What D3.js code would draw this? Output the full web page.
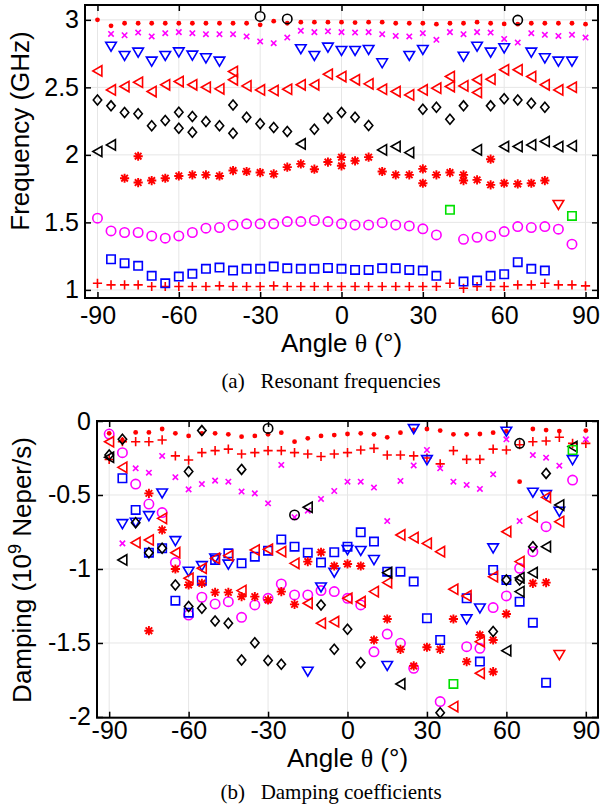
<!DOCTYPE html>
<html>
<head>
<meta charset="utf-8">
<script src="https://cdn.jsdelivr.net/npm/d3@7"></script>
<style>
  body { margin: 0; background: #fff; }
  svg { display: block; }
</style>
</head>
<body>
<div id="chart"></div>
<script>
// ticks
const xTicks = [-90, -60, -30, 0, 30, 60, 90]
const freqTicks = [1, 1.5, 2, 2.5, 3]
const dampTicks = [-2, -1.5, -1, -0.5, 0]

// (a) resonant frequencies, [angle, GHz]
const fPlus = [[-90,1.049],[-85,1.037],[-80,1.037],[-75,1.037],[-70,1.025],[-65,1.025],[-60,1.025],[-55,1.025],[-50,1.025],[-45,1.03],[-40,1.025],[-35,1.025],[-30,1.025],[-25,1.03],[-20,1.025],[-15,1.025],[-10,1.025],[-5,1.025],[0,1.025],[5,1.025],[10,1.025],[15,1.025],[20,1.025],[25,1.025],[30,1.025],[35,1.025],[40,1.049],[45,1.012],[50,1.025],[55,1.025],[60,1.025],[65,1.037],[70,1.037],[75,1.049],[80,1.037],[85,1.037],[90,1.03]]
const fSquare = [[-85,1.227],[-80,1.198],[-75,1.178],[-70,1.104],[-65,1.049],[-60,1.099],[-55,1.119],[-50,1.156],[-45,1.165],[-40,1.143],[-35,1.156],[-30,1.156],[-25,1.173],[-20,1.16],[-15,1.156],[-10,1.156],[-5,1.163],[0,1.156],[5,1.148],[10,1.148],[15,1.16],[20,1.16],[25,1.148],[30,1.143],[35,1.104],[45,1.062],[50,1.069],[55,1.104],[60,1.116],[65,1.205],[70,1.156],[75,1.143]]
const fCircle = [[-90,1.531],[-85,1.437],[-80,1.425],[-75,1.425],[-70,1.4],[-65,1.383],[-60,1.4],[-55,1.425],[-50,1.457],[-45,1.462],[-40,1.481],[-35,1.489],[-30,1.489],[-25,1.489],[-20,1.506],[-15,1.506],[-10,1.514],[-5,1.506],[0,1.489],[5,1.481],[10,1.481],[15,1.498],[20,1.481],[25,1.474],[30,1.452],[35,1.407],[45,1.375],[50,1.39],[55,1.4],[60,1.432],[65,1.469],[70,1.462],[75,1.469],[80,1.45],[85,1.339]]
const fStar = [[-80,1.827],[-75,1.795],[-75,1.99],[-70,1.81],[-65,1.827],[-60,1.844],[-55,1.852],[-50,1.852],[-45,1.844],[-40,1.884],[-35,1.877],[-30,1.869],[-25,1.859],[-20,1.909],[-15,1.933],[-10,1.894],[-5,1.947],[0,1.983],[0,1.919],[5,1.956],[10,1.983],[15,1.877],[20,1.852],[25,1.852],[30,1.896],[30,1.79],[35,1.852],[40,1.869],[45,1.852],[45,1.81],[50,1.815],[55,1.968],[55,1.778],[60,1.79],[65,1.785],[70,1.79],[75,1.81]]
const fTriBlack = [[-90,2.025],[-85,2.074],[-15,2.081],[15,2.037],[20,2.062],[25,2.017],[50,2.037],[60,2.062],[65,2.062],[70,2.074],[75,2.099],[80,2.062],[85,2.067]]
const fDiamond = [[-90,2.407],[-85,2.363],[-80,2.314],[-75,2.304],[-70,2.215],[-65,2.254],[-60,2.316],[-60,2.198],[-55,2.284],[-55,2.168],[-50,2.247],[-45,2.215],[-40,2.37],[-40,2.16],[-35,2.279],[-30,2.23],[-25,2.202],[-20,2.173],[-10,2.19],[-5,2.272],[0,2.314],[5,2.279],[10,2.217],[30,2.338],[35,2.353],[40,2.264],[45,2.363],[55,2.363],[60,2.415],[65,2.407],[70,2.383],[75,2.353]]
const fTriRed = [[-90,2.622],[-85,2.481],[-80,2.506],[-75,2.538],[-70,2.469],[-65,2.519],[-60,2.543],[-55,2.519],[-50,2.501],[-45,2.489],[-40,2.617],[-40,2.556],[-35,2.511],[-30,2.481],[-25,2.477],[-20,2.486],[-15,2.519],[-10,2.519],[-5,2.597],[0,2.58],[5,2.556],[10,2.526],[15,2.486],[20,2.469],[25,2.444],[30,2.481],[35,2.494],[40,2.58],[40,2.506],[45,2.511],[50,2.556],[50,2.462],[55,2.56],[60,2.63],[65,2.63],[70,2.58],[75,2.519],[80,2.481],[85,2.501]]
const fTriDown = [[-85,2.802],[-80,2.733],[-75,2.758],[-70,2.691],[-65,2.733],[-60,2.76],[-55,2.736],[-50,2.716],[-45,2.691],[-15,2.783],[-10,2.733],[-5,2.795],[0,2.77],[5,2.77],[10,2.778],[15,2.679],[25,2.733],[30,2.778],[45,2.728],[50,2.802],[55,2.758],[60,2.79],[70,2.758],[75,2.716],[80,2.691],[85,2.691]]
const fX = [[-85,2.896],[-80,2.886],[-75,2.906],[-70,2.877],[-65,2.901],[-60,2.909],[-55,2.901],[-50,2.894],[-45,2.894],[-40,2.894],[-35,2.877],[-30,2.84],[-25,2.827],[-20,2.869],[-15,2.919],[-10,2.909],[-5,2.915],[0,2.909],[5,2.906],[10,2.909],[15,2.894],[20,2.881],[25,2.877],[30,2.901],[35,2.852],[40,2.909],[45,2.894],[50,2.909],[55,2.906],[60,2.859],[65,2.832],[70,2.901],[75,2.889],[80,2.881],[85,2.889],[90,2.869]]
const fDot = [[-90,3.0],[-85,2.956],[-80,2.975],[-75,2.975],[-70,2.975],[-65,2.975],[-60,2.975],[-55,2.975],[-50,2.975],[-45,2.975],[-40,2.975],[-35,2.975],[-30,2.963],[-25,2.99],[-20,2.975],[-15,2.983],[-10,2.983],[-5,2.983],[0,2.983],[5,2.98],[10,2.983],[15,2.983],[20,2.975],[25,2.975],[30,2.975],[35,2.968],[40,2.975],[45,2.975],[50,2.983],[55,2.975],[60,2.97],[65,2.968],[70,2.975],[75,2.975],[80,2.975],[85,2.975],[90,2.968]]
const fCircBlack = [[-30,3.025],[-20,3.007],[65,2.998]]
const fGreen = [[40,1.593],[85,1.548]]
const fTriDownRed = [[80,1.63]]

// (b) damping coefficients, [angle, 1e9 Neper/s]
const dDot = [[-90,-0.083],[-85,-0.13],[-80,-0.077],[-75,-0.077],[-70,-0.054],[-65,-0.083],[-60,-0.101],[-55,-0.083],[-50,-0.083],[-45,-0.09],[-40,-0.106],[-35,-0.101],[-30,-0.09],[-25,-0.079],[-20,-0.14],[-15,-0.117],[-10,-0.101],[-5,-0.095],[0,-0.088],[5,-0.083],[10,-0.09],[15,-0.11],[20,-0.079],[25,-0.06],[30,-0.054],[35,-0.065],[40,-0.09],[45,-0.09],[50,-0.088],[55,-0.079],[60,-0.07],[65,-0.41],[70,-0.054],[75,-0.061],[80,-0.068],[90,-0.065]]
const dPlus = [[-90,-0.26],[-85,-0.14],[-80,-0.14],[-75,-0.14],[-70,-0.128],[-65,-0.236],[-60,-0.264],[-55,-0.214],[-50,-0.2],[-45,-0.19],[-40,-0.223],[-35,-0.214],[-30,-0.2],[-25,-0.2],[-20,-0.214],[-15,-0.223],[-10,-0.24],[-5,-0.223],[0,-0.214],[5,-0.196],[10,-0.185],[15,-0.23],[20,-0.23],[25,-0.236],[30,-0.25],[35,-0.29],[40,-0.2],[45,-0.259],[50,-0.259],[55,-0.19],[60,-0.196],[65,-0.16],[70,-0.14],[75,-0.135],[80,-0.11],[85,-0.151],[90,-0.151]]
const dX = [[-85,-0.827],[-80,-0.32],[-75,-0.349],[-70,-0.236],[-65,-0.38],[-60,-0.462],[-55,-0.426],[-50,-0.403],[-45,-0.41],[-40,-0.477],[-35,-0.489],[-30,-0.556],[-25,-0.297],[-20,-0.65],[-15,-0.606],[-10,-0.527],[-5,-0.473],[0,-0.41],[5,-0.41],[10,-0.45],[15,-0.676],[20,-0.405],[25,-0.3],[30,-0.196],[35,-0.32],[40,-0.41],[45,-0.432],[50,-0.459],[55,-0.36],[60,-0.124],[65,-0.676],[70,-0.23],[75,-0.248],[80,-0.302],[90,-0.124]]
const dCircle = [[-90,-0.088],[-85,-0.214],[-80,-0.426],[-75,-0.561],[-70,-0.619],[-65,-0.957],[-60,-1.311],[-55,-1.191],[-50,-1.236],[-45,-1.221],[-40,-1.327],[-35,-1.243],[-30,-1.198],[-25,-1.101],[-20,-1.175],[-15,-1.175],[-10,-1.146],[-5,-1.153],[0,-1.198],[5,-1.243],[10,-1.56],[15,-1.44],[20,-1.502],[25,-1.671],[35,-1.896],[45,-1.525],[50,-1.536],[55,-1.261],[60,-1.182],[65,-0.995],[70,-0.883],[75,-0.714],[85,-0.399]]
const dSquare = [[-85,-0.387],[-80,-0.601],[-75,-0.89],[-70,-0.86],[-65,-1.214],[-60,-1.295],[-55,-1.079],[-50,-0.939],[-45,-0.894],[-40,-0.962],[-35,-0.917],[-30,-0.876],[-25,-0.8],[-20,-0.849],[-15,-0.89],[-10,-0.957],[-5,-0.887],[0,-0.849],[5,-0.752],[10,-0.815],[15,-1.018],[20,-1.018],[25,-1.085],[30,-1.333],[35,-1.48],[45,-1.198],[50,-1.626],[55,-1.007],[60,-1.074],[65,-1.221],[70,-1.363],[75,-1.768]]
const dTriDown = [[-85,-0.696],[-80,-0.687],[-75,-0.642],[-70,-0.489],[-65,-0.811],[-60,-1.018],[-55,-0.98],[-50,-0.928],[-45,-0.97],[-15,-1.694],[-10,-1.124],[-5,-1.025],[0,-0.872],[5,-0.878],[10,-0.939],[15,-1.655],[25,-0.054],[30,-0.264],[45,-1.34],[50,-1.266],[55,-0.86],[60,-0.072],[70,-0.484],[75,-0.5],[80,-0.613],[85,-0.264]]
const dTriRed = [[-90,-0.14],[-85,-0.313],[-80,-0.822],[-75,-0.804],[-70,-0.658],[-65,-0.89],[-60,-1.063],[-55,-0.995],[-50,-0.928],[-45,-0.91],[-40,-1.146],[-35,-0.872],[-30,-0.867],[-25,-0.883],[-20,-0.962],[-15,-1.232],[-10,-1.367],[-5,-1.356],[0,-1.198],[5,-1.221],[10,-1.153],[15,-1.092],[20,-0.77],[25,-0.788],[30,-0.827],[35,-0.883],[40,-1.137],[40,-1.93],[45,-1.182],[50,-1.491],[50,-1.705],[55,-1.052],[60,-0.748],[65,-0.95],[70,-0.646],[75,-0.516],[80,-0.68]]
const dStar = [[-75,-0.489],[-70,-0.736],[-75,-1.417],[-65,-1.0],[-60,-1.108],[-55,-1.097],[-50,-1.158],[-45,-1.158],[-40,-1.187],[-35,-1.187],[-30,-1.209],[-25,-1.153],[-20,-1.239],[-15,-0.95],[-10,-0.887],[-5,-0.98],[0,-0.966],[5,-0.98],[10,-1.48],[15,-1.338],[20,-1.543],[25,-1.655],[30,-1.529],[35,-1.543],[40,-1.338],[45,-1.626],[50,-1.446],[55,-1.48],[55,-1.694],[60,-1.304],[70,-1.097],[75,-1.092]]
const dDiamond = [[-90,-0.23],[-85,-0.124],[-80,-0.687],[-75,-0.89],[-70,-0.86],[-65,-1.108],[-60,-0.342],[-60,-1.254],[-55,-0.065],[-55,-1.266],[-50,-1.351],[-45,-1.367],[-40,-0.327],[-40,-1.615],[-35,-1.498],[-30,-1.619],[-25,-1.644],[-10,-1.243],[-5,-1.543],[0,-1.408],[5,-1.633],[35,-1.971],[55,-1.423],[60,-1.074],[65,-1.074],[70,-0.849],[75,-0.354]]
const dTriBlack = [[-90,-0.245],[-85,-0.939],[-15,-0.583],[15,-1.025],[20,-1.777],[60,-1.552],[65,-1.06],[65,-1.153],[70,-1.025],[75,-0.849],[80,-0.568],[85,-0.173]]
const dCircBlack = [[-30,-0.05],[-20,-0.635],[65,-0.151]]
const dGreen = [[40,-1.777],[85,-0.196]]
const dTriDownRed = [[80,-1.581]]

// marker shapes
const markerPaths = {
  plus: 'M-4.6,0H4.6M0,-4.6V4.6',
  x: 'M-2.7,-2.7L2.7,2.7M-2.7,2.7L2.7,-2.7',
  star: 'M-4.6,0H4.6M0,-4.6V4.6M-3.3,-3.3L3.3,3.3M-3.3,3.3L3.3,-3.3',
  square: 'M-4.2,-4.2H4.2V4.2H-4.2Z',
  diamond: 'M0,-5L4.2,0L0,5L-4.2,0Z',
  triLeft: 'M-4.6,0L4.4,-5.2L4.4,5.2Z',
  triDown: 'M-5.3,-4.4L5.3,-4.4L0,4.6Z',
  circle: 'M4.7,0A4.7,4.7 0 1,1 -4.7,0A4.7,4.7 0 1,1 4.7,0Z',
  dot: 'M2.4,0A2.4,2.4 0 1,1 -2.4,0A2.4,2.4 0 1,1 2.4,0Z'
}

const red = '#ff0000', blue = '#0000ff', mag = '#ff00ff', green = '#00e000'
const sans = '"Liberation Sans", Arial, Helvetica, sans-serif'
const serif = '"Liberation Serif", "Times New Roman", serif'

const freqSeries = [
  { data: fPlus, m: 'plus', c: red },
  { data: fSquare, m: 'square', c: blue },
  { data: fCircle, m: 'circle', c: mag },
  { data: fStar, m: 'star', c: red },
  { data: fTriBlack, m: 'triLeft', c: '#000' },
  { data: fDiamond, m: 'diamond', c: '#000' },
  { data: fTriRed, m: 'triLeft', c: red },
  { data: fTriDown, m: 'triDown', c: blue },
  { data: fX, m: 'x', c: mag },
  { data: fDot, m: 'dot', c: red },
  { data: fCircBlack, m: 'circle', c: '#000' },
  { data: fGreen, m: 'square', c: green },
  { data: fTriDownRed, m: 'triDown', c: red }
]

const dampSeries = [
  { data: dDot, m: 'dot', c: red },
  { data: dPlus, m: 'plus', c: red },
  { data: dX, m: 'x', c: mag },
  { data: dCircle, m: 'circle', c: mag },
  { data: dSquare, m: 'square', c: blue },
  { data: dTriDown, m: 'triDown', c: blue },
  { data: dTriRed, m: 'triLeft', c: red },
  { data: dStar, m: 'star', c: red },
  { data: dDiamond, m: 'diamond', c: '#000' },
  { data: dTriBlack, m: 'triLeft', c: '#000' },
  { data: dCircBlack, m: 'circle', c: '#000' },
  { data: dGreen, m: 'square', c: green },
  { data: dTriDownRed, m: 'triDown', c: red }
]

const svg = d3.select('#chart').append('svg')
  .attr('width', 600)
  .attr('height', 805)
  .style('background-color', '#fff')

function drawPanel(o) {
  const x = d3.scaleLinear().domain([-94.6, 94.6]).range([o.left, o.right])
  const y = d3.scaleLinear().domain(o.yDomain).range([o.bottom, o.top])
  const g = svg.append('g')
  const w = o.right - o.left, h = o.bottom - o.top

  // grid
  g.append('g').selectAll('line').data(xTicks).join('line')
    .attr('x1', d => x(d)).attr('x2', d => x(d))
    .attr('y1', o.top).attr('y2', o.bottom)
    .attr('stroke', '#e6e6e6').attr('stroke-width', 1)
  g.append('g').selectAll('line').data(o.yTicks).join('line')
    .attr('x1', o.left).attr('x2', o.right)
    .attr('y1', d => y(d)).attr('y2', d => y(d))
    .attr('stroke', '#e6e6e6').attr('stroke-width', 1)

  // markers
  o.series.forEach(s => {
    const filled = s.m === 'dot'
    g.append('g').selectAll('path').data(s.data).join('path')
      .attr('transform', d => `translate(${x(d[0])},${y(d[1])})`)
      .attr('d', markerPaths[s.m])
      .attr('fill', filled ? s.c : 'none')
      .attr('stroke', filled ? 'none' : s.c)
      .attr('stroke-width', s.m === 'star' ? 1.9 : 1.6)
  })

  // axes, ticks pointing inward
  const fmt = d => String(d)
  g.append('g').attr('transform', `translate(0,${o.bottom})`)
    .call(d3.axisBottom(x).tickValues(xTicks).tickSize(-6).tickPadding(o.xPad).tickFormat(fmt))
  g.append('g').attr('transform', `translate(0,${o.top})`)
    .call(d3.axisTop(x).tickValues(xTicks).tickSize(-6).tickFormat(''))
  g.append('g').attr('transform', `translate(${o.left},0)`)
    .call(d3.axisLeft(y).tickValues(o.yTicks).tickSize(-6).tickPadding(6).tickFormat(fmt))
  g.append('g').attr('transform', `translate(${o.right},0)`)
    .call(d3.axisRight(y).tickValues(o.yTicks).tickSize(-6).tickFormat(''))
  g.selectAll('.domain').remove()
  g.selectAll('.tick line').attr('stroke', '#000').attr('stroke-width', 1.5)
  g.selectAll('.tick text').style('font-size', '25px').style('font-family', sans).attr('fill', '#000')

  g.append('rect')
    .attr('x', o.left).attr('y', o.top).attr('width', w).attr('height', h)
    .attr('fill', 'none').attr('stroke', '#000').attr('stroke-width', 2)

  // x label
  const xl = g.append('text').attr('x', x(0)).attr('y', o.xLabelY)
    .attr('text-anchor', 'middle').style('font-size', '26px').style('font-family', sans)
  xl.append('tspan').text('Angle ')
  xl.append('tspan').style('font-family', serif).text('θ')
  xl.append('tspan').text(' (°)')

  // y label
  const yl = g.append('text')
    .attr('transform', `translate(${o.yLabelX},${o.yLabelY}) rotate(-90)`)
    .attr('text-anchor', 'middle').style('font-size', '26px').style('font-family', sans)
  o.yLabel(yl)

  // caption
  g.append('text').attr('x', 331).attr('y', o.captionY)
    .attr('text-anchor', 'middle')
    .style('font-size', '21px').style('font-family', serif).style('white-space', 'pre')
    .text(o.caption)
}

drawPanel({
  left: 85, right: 598, top: 5, bottom: 298,
  yDomain: [0.94, 3.11], yTicks: freqTicks, series: freqSeries,
  xPad: 8, xLabelY: 352, yLabelX: 29, yLabelY: 131, captionY: 388,
  caption: '(a)   Resonant frequencies',
  yLabel: t => t.text('Frequency (GHz)')
})

drawPanel({
  left: 97, right: 598, top: 421, bottom: 717.7,
  yDomain: [-2.005, 0], yTicks: dampTicks, series: dampSeries,
  xPad: 4, xLabelY: 767, yLabelX: 31, yLabelY: 570, captionY: 799,
  caption: '(b)   Damping coefficients',
  yLabel: t => {
    t.append('tspan').text('Damping (10')
    t.append('tspan').style('font-size', '18px').attr('dy', -10).text('9')
    t.append('tspan').attr('dy', 10).text(' Neper/s)')
  }
})
</script>
</body>
</html>
